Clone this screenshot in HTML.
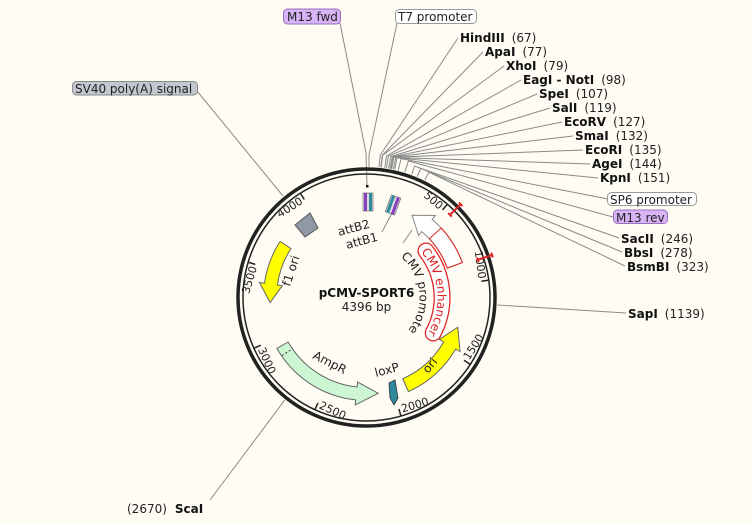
<!DOCTYPE html>
<html><head><meta charset="utf-8"><style>
html,body{margin:0;padding:0;background:#fffcf4;}
svg{display:block;font-family:"DejaVu Sans","Liberation Sans",sans-serif;}
.b{font-weight:bold;font-size:12px;fill:#111}
.n{font-size:12px;fill:#222}
.t{font-size:11px;fill:#222}
.ln{stroke:#8a8a8a;stroke-width:1;fill:none}
</style></head><body>
<svg width="752" height="523" viewBox="0 0 752 523" xmlns="http://www.w3.org/2000/svg">
<rect width="752" height="523" fill="#fffcf4"/>
<!-- connector lines -->
<g class="ln">
<polyline points="379,167 380.2,155.2 458,38"/>
<polyline points="380.9,167.3 382.2,155.4 483,52"/>
<polyline points="381.3,167.3 382.6,155.4 504,66"/>
<polyline points="384.8,167.8 386.5,155.9 521,80"/>
<polyline points="386.5,168 388.3,156.2 537,94"/>
<polyline points="388.7,168.4 390.7,156.6 550,108"/>
<polyline points="390.1,168.6 392.3,156.8 562,122"/>
<polyline points="391.1,168.8 393.3,157 573,136"/>
<polyline points="391.6,168.9 393.9,157.2 583,150"/>
<polyline points="393.3,169.3 395.7,157.5 590,164"/>
<polyline points="394.6,169.5 397.1,157.8 598,178"/>
<polyline points="398.2,170.4 401.1,158.6 608,199"/>
<polyline points="404.8,172.2 408.4,161 613,217"/>
<polyline points="411.6,174.5 414.7,166.1 619,238"/>
<polyline points="417.2,176.7 420.7,168.4 622,252"/>
<polyline points="424.8,180.2 428.9,172.2 625,266"/>
<polyline points="340,23 366,153 367,185"/>
<polyline points="397,23 369,155 369,167"/>
<line x1="497.3" y1="305" x2="626" y2="313"/>
<line x1="284.8" y1="399.9" x2="210" y2="500"/>
<line x1="197" y1="91" x2="283" y2="196"/>
<line x1="382" y1="232" x2="392" y2="213"/>
<line x1="403" y1="243" x2="412" y2="230"/>
</g>
<!-- ring -->
<circle cx="366.5" cy="297.5" r="128.5" fill="none" stroke="#222" stroke-width="3.5"/>
<circle cx="366.5" cy="297.5" r="123.5" fill="none" stroke="#222" stroke-width="1.5"/>
<!-- ticks -->
<g stroke="#222" stroke-width="1.5">
<line x1="447.1" y1="204.6" x2="442.5" y2="209.9"/>
<line x1="488.3" y1="280.2" x2="481.3" y2="281.2"/>
<line x1="469.9" y1="364.1" x2="464" y2="360.3"/>
<line x1="400.8" y1="415.6" x2="398.9" y2="408.9"/>
<line x1="315.1" y1="409.2" x2="318" y2="402.9"/>
<line x1="254.4" y1="348.1" x2="260.8" y2="345.2"/>
<line x1="248.6" y1="262.4" x2="255.3" y2="264.4"/>
<line x1="300.6" y1="193.6" x2="304.3" y2="199.5"/>
</g>
<g class="t">
<text x="364" y="184" text-anchor="end" transform="rotate(40.95 366.5 297.5)">500</text>
<text x="364" y="184" text-anchor="end" transform="rotate(81.9 366.5 297.5)">1000</text>
<text x="369" y="418" text-anchor="start" transform="rotate(-57.2 366.5 297.5)">1500</text>
<text x="369" y="418" text-anchor="start" transform="rotate(-16.2 366.5 297.5)">2000</text>
<text x="369" y="418" text-anchor="start" transform="rotate(24.7 366.5 297.5)">2500</text>
<text x="369" y="418" text-anchor="start" transform="rotate(65.7 366.5 297.5)">3000</text>
<text x="364" y="184" text-anchor="end" transform="rotate(-73.4 366.5 297.5)">3500</text>
<text x="364" y="184" text-anchor="end" transform="rotate(-32.4 366.5 297.5)">4000</text>
</g>
<!-- red markers -->
<g stroke="#e02020" stroke-width="2" fill="none">
<g transform="rotate(45.3 366.5 297.5)"><line x1="366.5" y1="165" x2="366.5" y2="180"/><line x1="364" y1="165" x2="369" y2="165"/><line x1="364" y1="180" x2="369" y2="180"/></g>
<g transform="rotate(71.3 366.5 297.5)"><line x1="366.5" y1="165" x2="366.5" y2="180"/><line x1="364" y1="165" x2="369" y2="165"/><line x1="364" y1="180" x2="369" y2="180"/></g>
</g>
<!-- SV40 -->
<polygon points="295,225 310,213 318,228 305,237" fill="#8f99a5" stroke="#555" stroke-width="1"/>
<!-- f1 ori -->
<path d="M280.1,241.4 A103,103 0 0 0 264.5,283.2 L259.5,282.5 L270.1,302.5 L282.3,285.7 L277.4,285 A90,90 0 0 1 291,248.5 Z" fill="#ffff00" stroke="#666" stroke-width="1"/>
<text class="n" x="0" y="0" transform="translate(290,287) rotate(-72)">f1 ori</text>
<!-- AmpR -->
<path d="M276.9,348.4 A103,103 0 0 0 355.7,399.9 L355.2,404.9 L378.3,393.3 L357.6,382 L357.1,387 A90,90 0 0 1 288.2,342 Z" fill="#ccf7d2" stroke="#666" stroke-width="1"/>
<line x1="282" y1="355.5" x2="293" y2="348.5" stroke="#333" stroke-dasharray="2,2"/>
<text class="n" transform="translate(312,358) rotate(27)">AmpR</text>
<!-- ori -->
<path d="M408.4,391.6 A103,103 0 0 0 455.7,349 L460,351.5 L457.8,327.2 L439.2,339.5 L443.6,342 A89,89 0 0 1 402.7,378.8 Z" fill="#ffff00" stroke="#666" stroke-width="1"/>
<text class="n" transform="translate(428,374) rotate(-50)">ori</text>
<!-- loxP -->
<polygon points="389,383 395,380 398,398 394,405 390,398" fill="#2e8a9c" stroke="#333" stroke-width="0.8"/>
<text class="n" transform="translate(376,377) rotate(-15)">loxP</text>
<!-- CMV arrow -->
<path d="M462.3,262.6 A102,102 0 0 0 432.1,219.4 L435.3,215.5 L412.1,215.3 L418.6,235.5 L421.8,231.6 A86,86 0 0 1 447.3,268.1 Z" fill="#ffffff" stroke="#888" stroke-width="1"/>
<path d="M462.3,262.6 A102,102 0 0 0 441.1,227.9 L429.4,238.8 A86,86 0 0 1 447.3,268.1 Z" fill="none" stroke="#e02020" stroke-width="1"/>
<!-- CMV enhancer label -->
<path d="M426,251 A75.5,75.5 0 0 1 433.2,333" fill="none" stroke="#e02020" stroke-width="17" stroke-linecap="round"/>
<path d="M426,251 A75.5,75.5 0 0 1 433.2,333" fill="none" stroke="#ffffff" stroke-width="14.5" stroke-linecap="round"/>
<path id="enh" d="M420.9,251.9 A71,71 0 0 1 424.7,338.2" fill="none"/>
<text style="font-size:12px;fill:#e02020"><textPath href="#enh">CMV enhancer</textPath></text>
<path id="pro" d="M400.6,256.9 A53,53 0 0 1 407.1,331.6" fill="none"/>
<text class="n"><textPath href="#pro">CMV promoter</textPath></text>
<!-- attB -->
<g>
<rect x="363" y="193" width="10" height="18" fill="#ddd" stroke="#555" stroke-width="0.6"/>
<rect x="364" y="193" width="3" height="18" fill="#8a3ec0"/>
<rect x="369" y="193" width="3" height="18" fill="#2e8a9c"/>
<rect x="366" y="185" width="2.5" height="2.5" fill="#111"/>
</g>
<g transform="rotate(20 393 205)">
<rect x="388" y="196" width="10" height="18" fill="#ddd" stroke="#555" stroke-width="0.6"/>
<rect x="389" y="196" width="3" height="18" fill="#2e8a9c"/>
<rect x="394" y="196" width="3" height="18" fill="#8a3ec0"/>
</g>
<text class="n" transform="translate(339,236) rotate(-15)">attB2</text>
<text class="n" transform="translate(347,249) rotate(-15)">attB1</text>
<!-- center -->
<text class="b" x="366.5" y="297" text-anchor="middle">pCMV-SPORT6</text>
<text class="n" x="366.5" y="311" text-anchor="middle">4396 bp</text>
<!-- boxes -->
<rect x="283.5" y="9" width="57" height="15" rx="4" fill="#d7b4f6" stroke="#9a6fc0"/>
<text class="n" x="287" y="21">M13 fwd</text>
<rect x="395.5" y="9.5" width="81" height="14" rx="4" fill="#fff" stroke="#999"/>
<text class="n" x="398" y="21">T7 promoter</text>
<rect x="607.5" y="192.5" width="89" height="13" rx="4" fill="#fff" stroke="#999"/>
<text class="n" x="610" y="204">SP6 promoter</text>
<rect x="613.5" y="210" width="54" height="13.5" rx="4" fill="#d7b4f6" stroke="#9a6fc0"/>
<text class="n" x="616" y="222">M13 rev</text>
<rect x="72.5" y="81.5" width="125" height="13.5" rx="4" fill="#c3c7cf" stroke="#888"/>
<text class="n" x="75" y="93">SV40 poly(A) signal</text>
<!-- enzymes -->
<text x="460" y="42"><tspan class="b">HindIII</tspan><tspan class="n" dx="7">(67)</tspan></text>
<text x="485" y="56"><tspan class="b">ApaI</tspan><tspan class="n" dx="7">(77)</tspan></text>
<text x="506" y="70"><tspan class="b">XhoI</tspan><tspan class="n" dx="7">(79)</tspan></text>
<text x="523" y="84"><tspan class="b">EagI - NotI</tspan><tspan class="n" dx="7">(98)</tspan></text>
<text x="539" y="98"><tspan class="b">SpeI</tspan><tspan class="n" dx="7">(107)</tspan></text>
<text x="552" y="112"><tspan class="b">SalI</tspan><tspan class="n" dx="7">(119)</tspan></text>
<text x="564" y="126"><tspan class="b">EcoRV</tspan><tspan class="n" dx="7">(127)</tspan></text>
<text x="575" y="140"><tspan class="b">SmaI</tspan><tspan class="n" dx="7">(132)</tspan></text>
<text x="585" y="154"><tspan class="b">EcoRI</tspan><tspan class="n" dx="7">(135)</tspan></text>
<text x="592" y="168"><tspan class="b">AgeI</tspan><tspan class="n" dx="7">(144)</tspan></text>
<text x="600" y="182"><tspan class="b">KpnI</tspan><tspan class="n" dx="7">(151)</tspan></text>
<text x="621" y="243"><tspan class="b">SacII</tspan><tspan class="n" dx="7">(246)</tspan></text>
<text x="624" y="257"><tspan class="b">BbsI</tspan><tspan class="n" dx="7">(278)</tspan></text>
<text x="627" y="271"><tspan class="b">BsmBI</tspan><tspan class="n" dx="7">(323)</tspan></text>
<text x="628" y="318"><tspan class="b">SapI</tspan><tspan class="n" dx="7">(1139)</tspan></text>
<text x="127" y="513"><tspan class="n">(2670)</tspan><tspan class="b" dx="8">ScaI</tspan></text>
</svg>
</body></html>
